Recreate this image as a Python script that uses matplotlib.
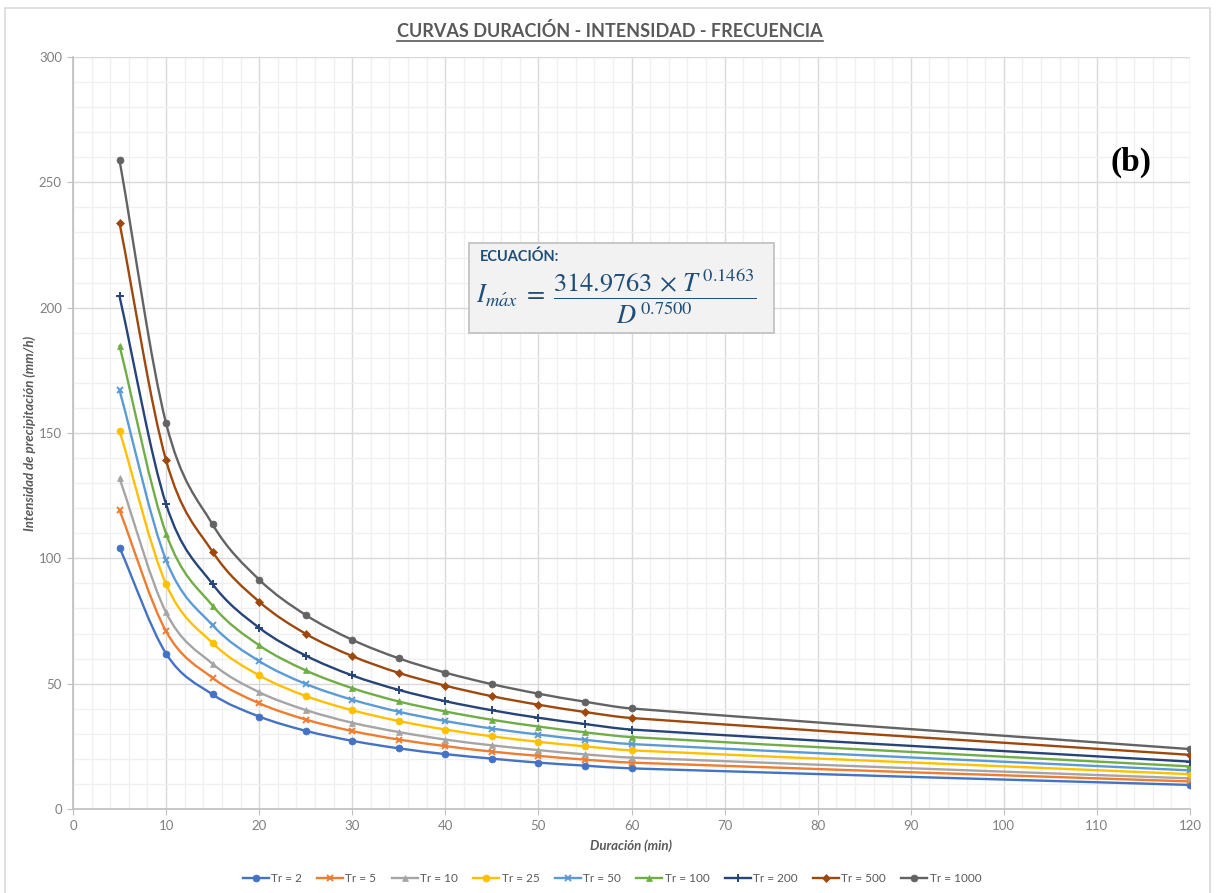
import matplotlib
matplotlib.use("Agg")
import matplotlib.pyplot as plt
from matplotlib.path import Path
from matplotlib.patches import PathPatch, Rectangle
from matplotlib.lines import Line2D
from matplotlib.ticker import MultipleLocator
import numpy as np

plt.rcParams['font.family'] = ['Lato', 'DejaVu Sans']
plt.rcParams['mathtext.fontset'] = 'stix'

# ---- data ----
duration = [5, 10, 15, 20, 25, 30, 35, 40, 45, 50, 55, 60, 120]
tr_labels = ["Tr = 2", "Tr = 5", "Tr = 10", "Tr = 25", "Tr = 50",
             "Tr = 100", "Tr = 200", "Tr = 500", "Tr = 1000"]
tr2 = [104.3, 62.0, 45.7, 36.9, 31.2, 27.2, 24.2, 21.9, 20.1, 18.5, 17.3, 16.2, 9.6]
tr5 = [119.2, 70.9, 52.3, 42.2, 35.7, 31.1, 27.7, 25.1, 22.9, 21.2, 19.7, 18.5, 11.0]
tr10 = [131.9, 78.4, 57.9, 46.6, 39.5, 34.4, 30.7, 27.7, 25.4, 23.5, 21.8, 20.5, 12.2]
tr25 = [150.9, 89.7, 66.2, 53.3, 45.1, 39.4, 35.1, 31.7, 29.0, 26.8, 25.0, 23.4, 13.9]
tr50 = [167.0, 99.3, 73.3, 59.0, 49.9, 43.6, 38.8, 35.1, 32.1, 29.7, 27.6, 25.9, 15.4]
tr100 = [184.8, 109.9, 81.1, 65.3, 55.3, 48.2, 42.9, 38.9, 35.6, 32.9, 30.6, 28.7, 17.0]
tr200 = [204.5, 121.6, 89.7, 72.3, 61.2, 53.3, 47.5, 43.0, 39.4, 36.4, 33.9, 31.7, 18.9]
tr500 = [233.8, 139.1, 102.6, 82.7, 69.9, 61.0, 54.3, 49.2, 45.0, 41.6, 38.7, 36.3, 21.6]
tr1000 = [258.8, 153.9, 113.5, 91.5, 77.4, 67.5, 60.1, 54.4, 49.8, 46.0, 42.8, 40.1, 23.9]
series = [tr2, tr5, tr10, tr25, tr50, tr100, tr200, tr500, tr1000]

colors = ["#4472C4", "#ED7D31", "#A5A5A5", "#FFC000", "#5B9BD5",
          "#70AD47", "#264478", "#9E480E", "#636363"]
markers = ["o", "x", "^", "o", "x", "^", "+", "D", "o"]
msizes = [5, 5, 5, 5, 5, 5, 6, 4, 5]

W, H = 1216, 893
fig = plt.figure(figsize=(W / 100, H / 100), dpi=100)
ax = fig.add_axes([73 / W, 1 - 809 / H, (1190 - 73) / W, (809 - 57) / H])

def smooth_path(x, y):
    """Cubic Hermite (Bezier) path through the points, tangents from neighbours."""
    x = np.asarray(x, float); y = np.asarray(y, float)
    n = len(x)
    m = np.zeros(n)
    for i in range(n):
        a = max(i - 1, 0); b = min(i + 1, n - 1)
        m[i] = (y[b] - y[a]) / (x[b] - x[a])
    verts = [(x[0], y[0])]
    codes = [Path.MOVETO]
    for i in range(n - 1):
        h = x[i + 1] - x[i]
        c1 = (x[i] + h / 3, y[i] + m[i] * h / 3)
        c2 = (x[i + 1] - h / 3, y[i + 1] - m[i + 1] * h / 3)
        verts += [c1, c2, (x[i + 1], y[i + 1])]
        codes += [Path.CURVE4] * 3
    return Path(verts, codes)

handles = []
for vals, c, m, ms, lab in zip(series, colors, markers, msizes, tr_labels):
    patch = PathPatch(smooth_path(duration, vals), facecolor='none', edgecolor=c,
                      lw=1.7, zorder=3, capstyle='round', joinstyle='round')
    ax.add_patch(patch)
    mew = 1.4 if m in ('x', '+') else 0.5
    ax.plot(duration, vals, linestyle='none', marker=m, ms=ms, color=c,
            mec=c, mew=mew, zorder=4)
    handles.append(Line2D([], [], color=c, lw=1.7, marker=m, ms=ms, mec=c, mew=mew))

ax.set_xlim(0, 120)
ax.set_ylim(0, 300)
ax.xaxis.set_major_locator(MultipleLocator(10))
ax.xaxis.set_minor_locator(MultipleLocator(2))
ax.yaxis.set_major_locator(MultipleLocator(50))
ax.yaxis.set_minor_locator(MultipleLocator(10))
ax.grid(which='major', color='#D9D9D9', lw=1.0, zorder=0)
ax.grid(which='minor', color='#F0F0F0', lw=1.0, zorder=0)
ax.set_axisbelow(True)
for s in ['top', 'right']:
    ax.spines[s].set_visible(False)
for s in ['left', 'bottom']:
    ax.spines[s].set_color('#BFBFBF')
    ax.spines[s].set_linewidth(1.2)
ax.tick_params(which='major', direction='out', length=4, color='#BFBFBF',
               labelcolor='#808080', labelsize=9.5, pad=4)
ax.tick_params(which='minor', length=0)

ax.set_xlabel("Duración (min)", fontsize=9.5, fontweight='bold', style='italic',
              color='#595959', labelpad=5)
ax.set_ylabel("Intensidad de precipitación (mm/h)", fontsize=9.5, fontweight='bold',
              style='italic', color='#595959', labelpad=2)

# frame of the chart area
fig.patches.append(Rectangle((5 / W, -0.05), (1210 - 5) / W, 1 - 8 / H + 0.05,
                             transform=fig.transFigure, fill=False,
                             edgecolor='#D9D9D9', lw=1.2))

# title with underline
title = fig.text(610 / W, 1 - 31 / H, "CURVAS DURACIÓN - INTENSIDAD - FRECUENCIA",
                 ha='center', va='center', fontsize=13, fontweight='bold',
                 color='#595959')
fig.canvas.draw()
bb = title.get_window_extent()
fig.add_artist(Line2D([bb.x0 / W, bb.x1 / W], [(bb.y0 - 1) / H, (bb.y0 - 1) / H],
                      transform=fig.transFigure, color='#595959', lw=1.2))

# (b) label
fig.text(1131 / W, 1 - 162 / H, "(b)", ha='center', va='center', fontsize=24,
         fontweight='bold', family='Liberation Serif', color='black')

# equation box
fig.patches.append(Rectangle((469 / W, 1 - 333 / H), (774 - 469) / W, (333 - 243) / H,
                             transform=fig.transFigure, facecolor='#F2F2F2',
                             edgecolor='#BFBFBF', lw=1.2, zorder=5))
fig.text(480 / W, 1 - 257 / H, "ECUACIÓN:", ha='left', va='center', fontsize=10.5,
         fontweight='bold', color='#1F4E79', zorder=6)
fig.text(616 / W, 1 - 297 / H,
         r"$I_{m\acute{a}x}\;=\;\dfrac{314.9763\,\times\,T^{\,0.1463}}{D^{\,0.7500}}$",
         ha='center', va='center', fontsize=19, color='#1F4E79', zorder=6)

fig.legend(handles, tr_labels, loc='center', bbox_to_anchor=(612 / W, 1 - 879 / H),
           ncol=9, frameon=False, fontsize=8.5, labelcolor='#595959',
           handlelength=2.2, columnspacing=1.3, handletextpad=0.2)

fig.savefig("out.png", dpi=100)
